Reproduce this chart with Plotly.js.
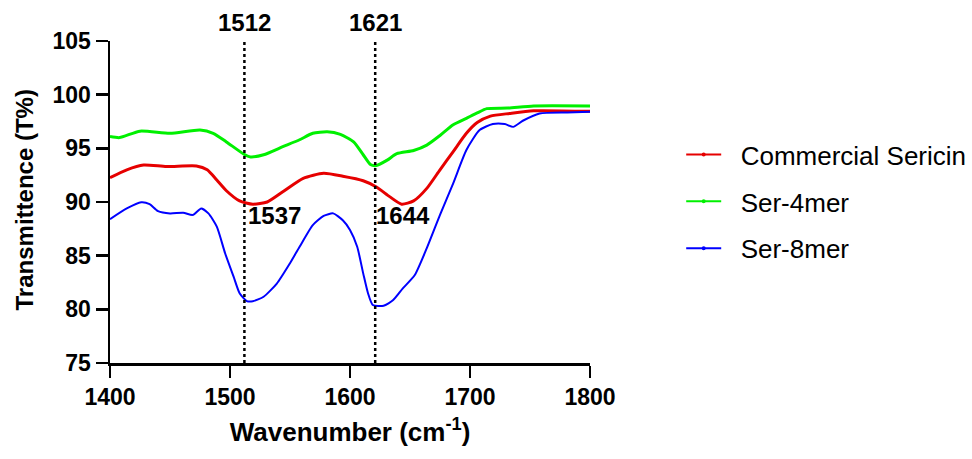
<!DOCTYPE html>
<html>
<head>
<meta charset="utf-8">
<script src="https://cdn.plot.ly/plotly-3.0.1.min.js"></script>
<style>html,body{margin:0;padding:0;background:#fff;}#chart{width:972px;height:459px;}</style>
</head>
<body>
<div id="chart"></div>
<script>
// Commercial Sericin
const wnCommercial = [1400,1414,1428,1447,1472,1481,1489,1497,1508,1519,1531,1544,1561,1578,1594,1611,1622,1633,1643,1653,1664,1675,1686,1697,1706,1717,1733,1753,1800];
const tCommercial  = [92.26,93.0,93.45,93.3,93.35,93.0,92.05,91.05,90.1,89.8,90.0,90.95,92.2,92.67,92.4,91.98,91.4,90.5,89.8,90.1,91.27,93.0,94.7,96.4,97.4,98.0,98.25,98.5,98.45];
// Ser-4mer
const wn4mer = [1400,1408,1425,1450,1475,1486,1497,1511,1517,1528,1544,1558,1569,1581,1592,1603,1611,1617,1622,1631,1639,1653,1664,1675,1686,1697,1706,1714,1731,1753,1800];
const t4mer  = [96.1,96.0,96.6,96.4,96.7,96.4,95.6,94.5,94.2,94.4,95.15,95.8,96.4,96.55,96.3,95.6,94.4,93.5,93.4,93.9,94.5,94.8,95.3,96.2,97.2,97.8,98.3,98.7,98.75,98.95,98.95];
// Ser-8mer
const wn8mer = [1400,1414,1426,1433,1440,1450,1461,1469,1476,1482,1489,1496,1503,1508,1514,1519,1528,1539,1550,1558,1569,1578,1586,1594,1600,1606,1611,1615,1619,1628,1636,1644,1654,1664,1675,1686,1697,1708,1719,1729,1736,1744,1758,1781,1800];
const t8mer  = [88.4,89.4,89.97,89.8,89.15,88.94,89.0,88.8,89.4,88.94,87.7,85.2,83.04,81.5,80.77,80.75,81.17,82.4,84.3,85.83,87.85,88.7,88.94,88.3,87.4,85.83,83.35,81.5,80.4,80.33,80.86,81.95,83.2,85.7,88.8,91.74,94.84,96.7,97.26,97.26,97.0,97.57,98.25,98.35,98.4];

const seriesNames = ['Commercial Sericin','Ser-4mer','Ser-8mer'];
const seriesColors = ['#e60000','#00f000','#0000ff'];
const peakLines = [1512, 1621];
const peakLabels = [{x:1537, y:88.7, t:'1537'}, {x:1644, y:88.7, t:'1644'}];
const xTitle = 'Wavenumber (cm<sup>-1</sup>)';
const yTitle = 'Transmittence (T%)';

const xs = [wnCommercial, wn4mer, wn8mer];
const ys = [tCommercial, t4mer, t8mer];
const widths = [3, 3, 2];

const traces = [];
for (let i = 0; i < 3; i++) {
  traces.push({x: xs[i], y: ys[i], type: 'scatter', mode: 'lines', line: {color: seriesColors[i], width: widths[i], shape: 'spline', smoothing: 0.6}, showlegend: false, hoverinfo: 'skip'});
}
for (let i = 0; i < 3; i++) {
  traces.push({x: [null], y: [null], type: 'scatter', mode: 'lines+markers', name: '\u00a0\u00a0' + seriesNames[i], legendgroup: 'g' + i,
    line: {color: seriesColors[i], width: 2}, marker: {color: seriesColors[i], size: 4}});
}

const shapes = peakLines.map(v => ({type: 'line', xref: 'x', yref: 'y', x0: v, x1: v, y0: 75, y1: 105, line: {color: '#000', width: 2.5, dash: 'dot'}, layer: 'above'}));

const FAM = 'Liberation Sans, Arial, sans-serif';
const annFont = {family: FAM, size: 24, color: '#000', weight: 'bold'};
const annotations = [];
peakLines.forEach(v => annotations.push({x: v, y: 1.059, xref: 'x', yref: 'paper', text: String(v), showarrow: false, font: annFont, xanchor: 'center', yanchor: 'middle'}));
peakLabels.forEach(p => annotations.push({x: p.x, y: p.y, xref: 'x', yref: 'y', text: p.t, showarrow: false, font: annFont, xanchor: 'center', yanchor: 'middle'}));
annotations.push({x: -0.179, y: 0.505, xref: 'paper', yref: 'paper', text: yTitle, textangle: -90, showarrow: false,
  font: {family: FAM, size: 24, color: '#000', weight: 'bold'}, xanchor: 'center', yanchor: 'middle'});

const layout = {
  width: 972, height: 459,
  margin: {l: 110, r: 382, t: 41, b: 96, autoexpand: false},
  paper_bgcolor: '#fff', plot_bgcolor: '#fff',
  font: {family: FAM, color: '#000'},
  xaxis: {
    range: [1400, 1800], tickvals: [1400,1500,1600,1700,1800], showgrid: false, zeroline: false,
    showline: true, linecolor: '#000', linewidth: 2.5, ticks: 'outside', ticklen: 12, tickwidth: 2.5, tickcolor: '#000',
    tickfont: {size: 23, weight: 'bold', family: FAM},
    title: {text: xTitle, font: {size: 26, weight: 'bold', family: FAM}, standoff: 14}
  },
  yaxis: {
    range: [75, 105], tickvals: [75,80,85,90,95,100,105], showgrid: false, zeroline: false,
    showline: true, linecolor: '#000', linewidth: 2.5, ticks: 'outside', ticklen: 12, tickwidth: 2.5, tickcolor: '#000',
    tickfont: {size: 23, weight: 'bold', family: FAM}
  },
  showlegend: true,
  legend: {x: 1.19, y: 0.72, xanchor: 'left', yanchor: 'top', traceorder: 'grouped', tracegroupgap: 10,
    font: {size: 26, family: FAM, color: '#000'}, bgcolor: 'rgba(0,0,0,0)', itemwidth: 35},
  shapes: shapes,
  annotations: annotations
};

Plotly.newPlot('chart', traces, layout, {displayModeBar: false, staticPlot: true});
</script>
</body>
</html>
